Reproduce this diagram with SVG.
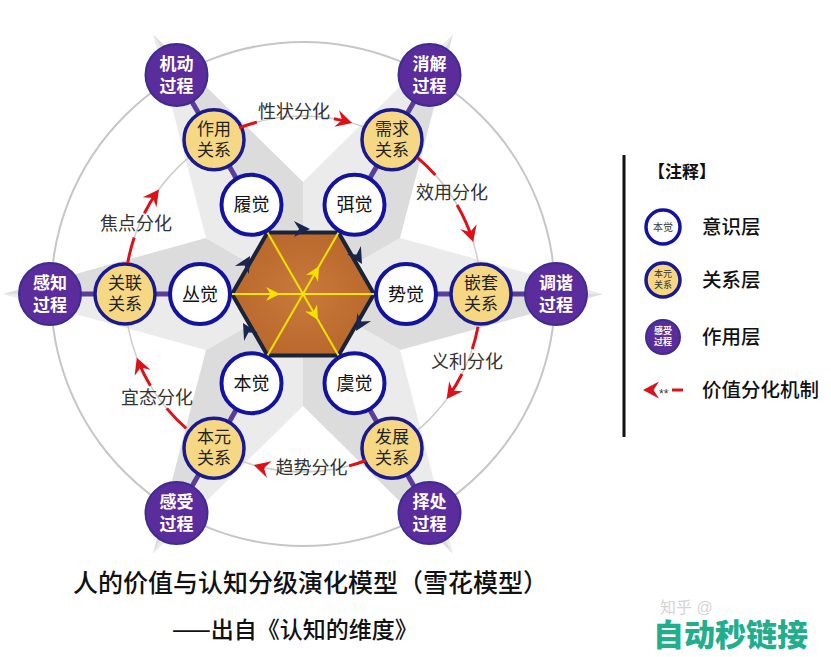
<svg xmlns="http://www.w3.org/2000/svg" width="831" height="657" viewBox="0 0 831 657">
<style>
text{font-family:'Liberation Sans','Noto Sans CJK SC',sans-serif;}
#title text{font-family:'Noto Sans CJK SC','Noto Sans',sans-serif;}
.ring{fill:none;stroke:#c6c6c6;stroke-width:2;}
.ring2{fill:none;stroke:#cdcdcd;stroke-width:1.5;}
.conn{stroke:#5a3d98;stroke-width:5;}
.inner circle{fill:#ffffff;stroke:#1313a0;stroke-width:4;}
.rel circle{fill:#f6d784;stroke:#1a1a8c;stroke-width:3.5;}
.act circle{fill:#5b2c9b;stroke:#3e2c90;stroke-width:2;}
.t18{font-size:18px;fill:#111;text-anchor:middle;}
.t17{font-size:17px;fill:#222;text-anchor:middle;}
.tw{font-size:17px;fill:#fff;font-weight:bold;text-anchor:middle;}
.red{fill:none;stroke:#dd1219;stroke-width:3;}
.lab{font-size:18px;fill:#333;text-anchor:middle;}
.yl{stroke:#f3e400;stroke-width:2;}
.leg{font-size:19.5px;fill:#111;font-weight:500;}
.dk{fill:#dcdcdc;}
.lt{fill:#ebebeb;}
</style>
<defs>
<path id="ah" d="M0,0 L-14,-7 L-9.5,0 L-14,7 Z"/>
<path id="rah" d="M0,0 L-16,-8.5 L-10.5,0 L-16,8.5 Z"/>
<radialGradient id="hexg" cx="0.5" cy="0.5" r="0.6">
<stop offset="0" stop-color="#c87a3a"/>
<stop offset="1" stop-color="#b8652b"/>
</radialGradient>
</defs>
<rect width="831" height="657" fill="#ffffff"/>

<g id="star">
<polygon class="dk" points="303,294 603,294 400,350"/>
<polygon class="lt" points="303,294 603,294 400,238"/>
<polygon class="dk" points="303,294 453,553.8 303,406"/>
<polygon class="lt" points="303,294 453,553.8 400,350"/>
<polygon class="dk" points="303,294 153,553.8 206,350"/>
<polygon class="lt" points="303,294 153,553.8 303,406"/>
<polygon class="dk" points="303,294 3,294 206,238"/>
<polygon class="lt" points="303,294 3,294 206,350"/>
<polygon class="dk" points="303,294 153,34.2 303,182"/>
<polygon class="lt" points="303,294 153,34.2 206,238"/>
<polygon class="dk" points="303,294 453,34.2 400,238"/>
<polygon class="lt" points="303,294 453,34.2 303,182"/>
</g>

<circle class="ring" cx="303" cy="294" r="252"/>
<circle class="ring2" cx="303" cy="294" r="178"/>

<g id="connectors">
<line class="conn" x1="406" y1="294" x2="556" y2="294"/>
<line class="conn" x1="354.5" y1="383.2" x2="429.5" y2="513.1"/>
<line class="conn" x1="251.5" y1="383.2" x2="176.5" y2="513.1"/>
<line class="conn" x1="200" y1="294" x2="50" y2="294"/>
<line class="conn" x1="251.5" y1="204.8" x2="176.5" y2="74.9"/>
<line class="conn" x1="354.5" y1="204.8" x2="429.5" y2="74.9"/>
</g>

<g id="core">
<polygon points="374,294 338.5,232.5 267.5,232.5 232,294 267.5,355.5 338.5,355.5" fill="url(#hexg)" stroke="#1b2336" stroke-width="4"/>
<line class="yl" x1="232" y1="294" x2="374" y2="294"/>
<line class="yl" x1="267.5" y1="232.5" x2="338.5" y2="355.5"/>
<line class="yl" x1="338.5" y1="232.5" x2="267.5" y2="355.5"/>
<use href="#ah" fill="#f3e400" transform="translate(280,294)"/>
<use href="#ah" fill="#f3e400" transform="translate(319,266.3) rotate(-60)"/>
<use href="#ah" fill="#f3e400" transform="translate(318,320) rotate(60)"/>
<use href="#ah" fill="#1a2550" transform="translate(310,229) scale(1.15)"/>
<use href="#ah" fill="#1a2550" transform="translate(362,264) rotate(60) scale(1.15)"/>
<use href="#ah" fill="#1a2550" transform="translate(356,331) rotate(120) scale(1.15)"/>
<use href="#ah" fill="#1a2550" transform="translate(243,323) rotate(240) scale(1.15)"/>
<use href="#ah" fill="#1a2550" transform="translate(250,256) rotate(300) scale(1.15)"/>
</g>

<g id="n-shijue" class="inner"><circle cx="406" cy="294" r="30"/><text class="t18" x="406" y="300.5">势觉</text></g>
<g id="n-yujue" class="inner"><circle cx="354.5" cy="383.2" r="30"/><text class="t18" x="354.5" y="389.7">虞觉</text></g>
<g id="n-benjue" class="inner"><circle cx="251.5" cy="383.2" r="30"/><text class="t18" x="251.5" y="389.7">本觉</text></g>
<g id="n-congjue" class="inner"><circle cx="200" cy="294" r="30"/><text class="t18" x="200" y="300.5">丛觉</text></g>
<g id="n-lvjue" class="inner"><circle cx="251.5" cy="204.8" r="30"/><text class="t18" x="251.5" y="211.3">履觉</text></g>
<g id="n-mijue" class="inner"><circle cx="354.5" cy="204.8" r="30"/><text class="t18" x="354.5" y="211.3">弭觉</text></g>

<g id="r-qiantao" class="rel"><circle cx="481" cy="294" r="30"/><text class="t17" x="481" y="289">嵌套<tspan x="481" dy="21">关系</tspan></text></g>
<g id="r-fazhan" class="rel"><circle cx="392" cy="448.2" r="30"/><text class="t17" x="392" y="443.2">发展<tspan x="392" dy="21">关系</tspan></text></g>
<g id="r-benyuan" class="rel"><circle cx="214" cy="448.2" r="30"/><text class="t17" x="214" y="443.2">本元<tspan x="214" dy="21">关系</tspan></text></g>
<g id="r-guanlian" class="rel"><circle cx="125" cy="294" r="30"/><text class="t17" x="125" y="289">关联<tspan x="125" dy="21">关系</tspan></text></g>
<g id="r-zuoyong" class="rel"><circle cx="214" cy="139.8" r="30"/><text class="t17" x="214" y="134.8">作用<tspan x="214" dy="21">关系</tspan></text></g>
<g id="r-xuqiu" class="rel"><circle cx="392" cy="139.8" r="30"/><text class="t17" x="392" y="134.8">需求<tspan x="392" dy="21">关系</tspan></text></g>

<g id="a-tiaoxie" class="act"><circle cx="556" cy="294" r="31"/><text class="tw" x="556" y="289">调谐<tspan x="556" dy="22">过程</tspan></text></g>
<g id="a-zechu" class="act"><circle cx="429.5" cy="513.1" r="31"/><text class="tw" x="429.5" y="508.1">择处<tspan x="429.5" dy="22">过程</tspan></text></g>
<g id="a-ganshou" class="act"><circle cx="176.5" cy="513.1" r="31"/><text class="tw" x="176.5" y="508.1">感受<tspan x="176.5" dy="22">过程</tspan></text></g>
<g id="a-ganzhi" class="act"><circle cx="50" cy="294" r="31"/><text class="tw" x="50" y="289">感知<tspan x="50" dy="22">过程</tspan></text></g>
<g id="a-jidong" class="act"><circle cx="176.5" cy="74.9" r="31"/><text class="tw" x="176.5" y="69.9">机动<tspan x="176.5" dy="22">过程</tspan></text></g>
<g id="a-xiaojie" class="act"><circle cx="429.5" cy="74.9" r="31"/><text class="tw" x="429.5" y="69.9">消解<tspan x="429.5" dy="22">过程</tspan></text></g>

<g id="value-arrows">
<path class="red" d="M239.2,127.8 A178,178 0 0 1 256.9,122.1"/>
<path class="red" d="M333.9,118.7 A178,178 0 0 1 347.6,121.7"/>
<use href="#rah" fill="#dd1219" transform="translate(352.1,122.9) rotate(16)"/>
<text class="lab" x="294" y="118">性状分化</text>

<path class="red" d="M417.4,157.6 A178,178 0 0 1 435.3,174.9"/>
<path class="red" d="M457.1,205 A178,178 0 0 1 471.8,237.5"/>
<use href="#rah" fill="#dd1219" transform="translate(473.2,242) rotate(73)"/>
<text class="lab" x="452" y="199">效用分化</text>

<path class="red" d="M478,326.7 A178,178 0 0 1 472.3,349"/>
<path class="red" d="M462,374 A178,178 0 0 1 449.3,395.3"/>
<use href="#rah" fill="#dd1219" transform="translate(446.6,399.1) rotate(126.2)"/>
<text class="lab" x="467" y="368">义利分化</text>

<path class="red" d="M365.9,460.5 A178,178 0 0 1 349.1,465.9"/>
<path class="red" d="M264.5,467.8 A178,178 0 0 1 258.4,466.3"/>
<use href="#rah" fill="#dd1219" transform="translate(253.9,465.1) rotate(196)"/>
<text class="lab" x="311.5" y="474">趋势分化</text>

<path class="red" d="M186.2,428.3 A178,178 0 0 1 166.7,408.4"/>
<path class="red" d="M150.4,385.7 A178,178 0 0 1 138.5,362.1"/>
<use href="#rah" fill="#dd1219" transform="translate(136.8,357.8) rotate(249)"/>
<text class="lab" x="157" y="404">宜态分化</text>

<path class="red" d="M127.7,263.1 A178,178 0 0 1 134.2,237.5"/>
<path class="red" d="M144.4,213.2 A178,178 0 0 1 156.3,193.2"/>
<use href="#rah" fill="#dd1219" transform="translate(159,189.4) rotate(306)"/>
<text class="lab" x="136" y="229.5">焦点分化</text>
</g>

<g id="legend">
<line x1="624" y1="155" x2="624" y2="437" stroke="#111" stroke-width="3"/>
<text x="648" y="178" font-size="17" font-weight="bold" fill="#111">【注释】</text>
<g id="leg-yishi"><circle cx="663" cy="227" r="17" fill="#fff" stroke="#1313a0" stroke-width="3.5"/><text x="663" y="230.5" font-size="10" fill="#333" text-anchor="middle">本觉</text></g>
<text class="leg" x="702" y="234">意识层</text>
<g id="leg-guanxi"><circle cx="663" cy="280" r="17" fill="#f6d784" stroke="#1a1a8c" stroke-width="3.5"/><text x="663" y="277" font-size="9" fill="#333" text-anchor="middle">本元<tspan x="663" dy="11">关系</tspan></text></g>
<text class="leg" x="702" y="287">关系层</text>
<g id="leg-zuoyong"><circle cx="663" cy="337" r="17" fill="#5b2c9b" stroke="#3e2c90" stroke-width="2"/><text x="663" y="334" font-size="9" font-weight="bold" fill="#fff" text-anchor="middle">感受<tspan x="663" dy="11">过程</tspan></text></g>
<text class="leg" x="702" y="344">作用层</text>
<line x1="672" y1="390" x2="683" y2="390" stroke="#dd1219" stroke-width="3"/>
<text x="659" y="398" font-size="12" fill="#333">**</text>
<use href="#rah" fill="#dd1219" transform="translate(643,390) rotate(180)"/>
<text class="leg" x="702" y="397">价值分化机制</text>
</g>

<g id="title">
<text x="73" y="592" font-size="25" font-weight="500" fill="#111">人的价值与认知分级演化模型（雪花模型）</text>
<text x="172" y="638" font-size="23" font-weight="500" fill="#111">——出自《认知的维度》</text>
</g>

<g id="watermark">
<text x="660" y="613" font-size="16" fill="#d4d4d4">知乎 @<tspan x="653" y="646" font-size="31" font-weight="900" fill="#22ad8c">自动秒链接</tspan></text>
</g>
</svg>
